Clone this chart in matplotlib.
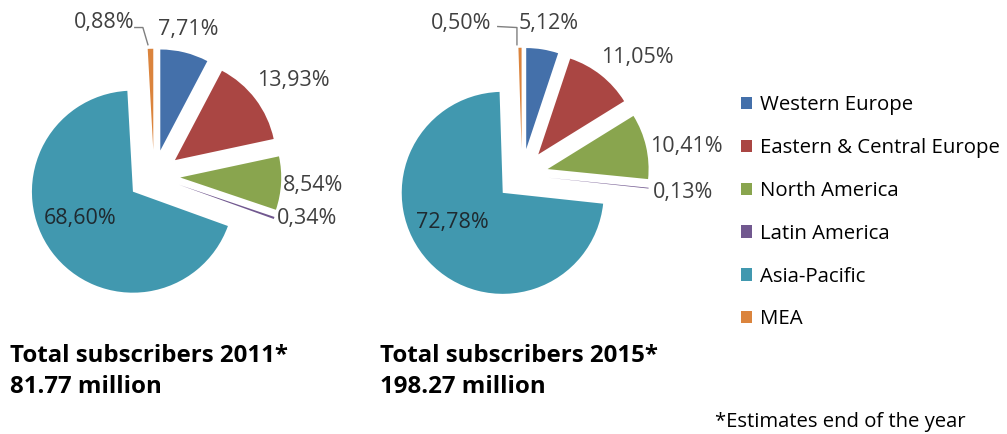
import matplotlib
matplotlib.use("Agg")
import matplotlib.pyplot as plt
from matplotlib.patches import Patch

plt.rcParams['font.family'] = ['Open Sans', 'DejaVu Sans']

regions = ['Western Europe', 'Eastern & Central Europe', 'North America',
           'Latin America', 'Asia-Pacific', 'MEA']
colors = ['#4470AA', '#AA4643', '#89A54E', '#71588F', '#4198AF', '#DB843D']

share_2011 = [7.71, 13.93, 8.54, 0.34, 68.60, 0.88]
share_2015 = [5.12, 11.05, 10.41, 0.13, 72.78, 0.50]

titles = ['Total subscribers 2011*', 'Total subscribers 2015*']
totals = ['81.77 million', '198.27 million']

# label anchors in pie units (radius = 1)
label_xy_2011 = [(0.34, 1.45), (1.38, 0.95), (1.57, -0.09), (1.52, -0.42), (-0.73, -0.42), (-0.49, 1.52)]
label_xy_2015 = [(0.26, 1.50), (1.14, 1.16), (1.63, 0.28), (1.59, -0.17), (-0.69, -0.47), (-0.60, 1.50)]
leader_2011 = [(-0.19, 1.47), (-0.11, 1.47), (-0.06, 1.30)]
leader_2015 = [(-0.24, 1.47), (-0.05, 1.46), (-0.05, 1.29)]

W, H = 1007, 434
fig = plt.figure(figsize=(W / 100, H / 100), dpi=100)
R = 101  # pie radius in px
half = 150


def pie_axes(cx, cy):
    ax = fig.add_axes([(cx - half) / W, (H - cy - half) / H, 2 * half / W, 2 * half / H])
    return ax


def draw_pie(ax, values, label_xy, leader):
    ax.pie(values, colors=colors, explode=[0.26] * len(values), startangle=90,
           counterclock=False, radius=1, frame=True,
           wedgeprops=dict(linewidth=0))
    lim = half / R
    ax.set_xlim(-lim, lim)
    ax.set_ylim(-lim, lim)
    ax.axis('off')
    for i, (v, (x, y)) in enumerate(zip(values, label_xy)):
        # the big Asia-Pacific slice carries its label inside, in a darker tone
        c = '#1f2a30' if i == 4 else '#404040'
        ax.text(x, y, f'{v:.2f}%'.replace('.', ','), ha='center', va='center',
                fontsize=15.5, color=c)
    xs, ys = zip(*leader)
    ax.plot(xs, ys, color='#7f7f7f', lw=1, clip_on=False)


ax1 = pie_axes(154, 176)
draw_pie(ax1, share_2011, label_xy_2011, leader_2011)
ax2 = pie_axes(522, 175)
draw_pie(ax2, share_2015, label_xy_2015, leader_2015)

for x0, t, tot in zip([10, 380], titles, totals):
    fig.text(x0 / W, 1 - 356 / H, t, fontsize=17.3, fontweight='bold', va='center', ha='left')
    fig.text(x0 / W, 1 - 387 / H, tot, fontsize=17.3, fontweight='bold', va='center', ha='left')

fig.text(715 / W, 1 - 422 / H, '*Estimates end of the year', fontsize=14.6, va='center', ha='left')

handles = [Patch(facecolor=c, edgecolor='none') for c in colors]
fig.legend(handles, regions, loc='upper left', bbox_to_anchor=(733 / W, 1 - 87 / H),
           frameon=False, fontsize=14.7, handlelength=0.55, handleheight=0.55,
           handletextpad=0.35, labelspacing=1.12, borderaxespad=0)

fig.savefig('out.png', dpi=100)
